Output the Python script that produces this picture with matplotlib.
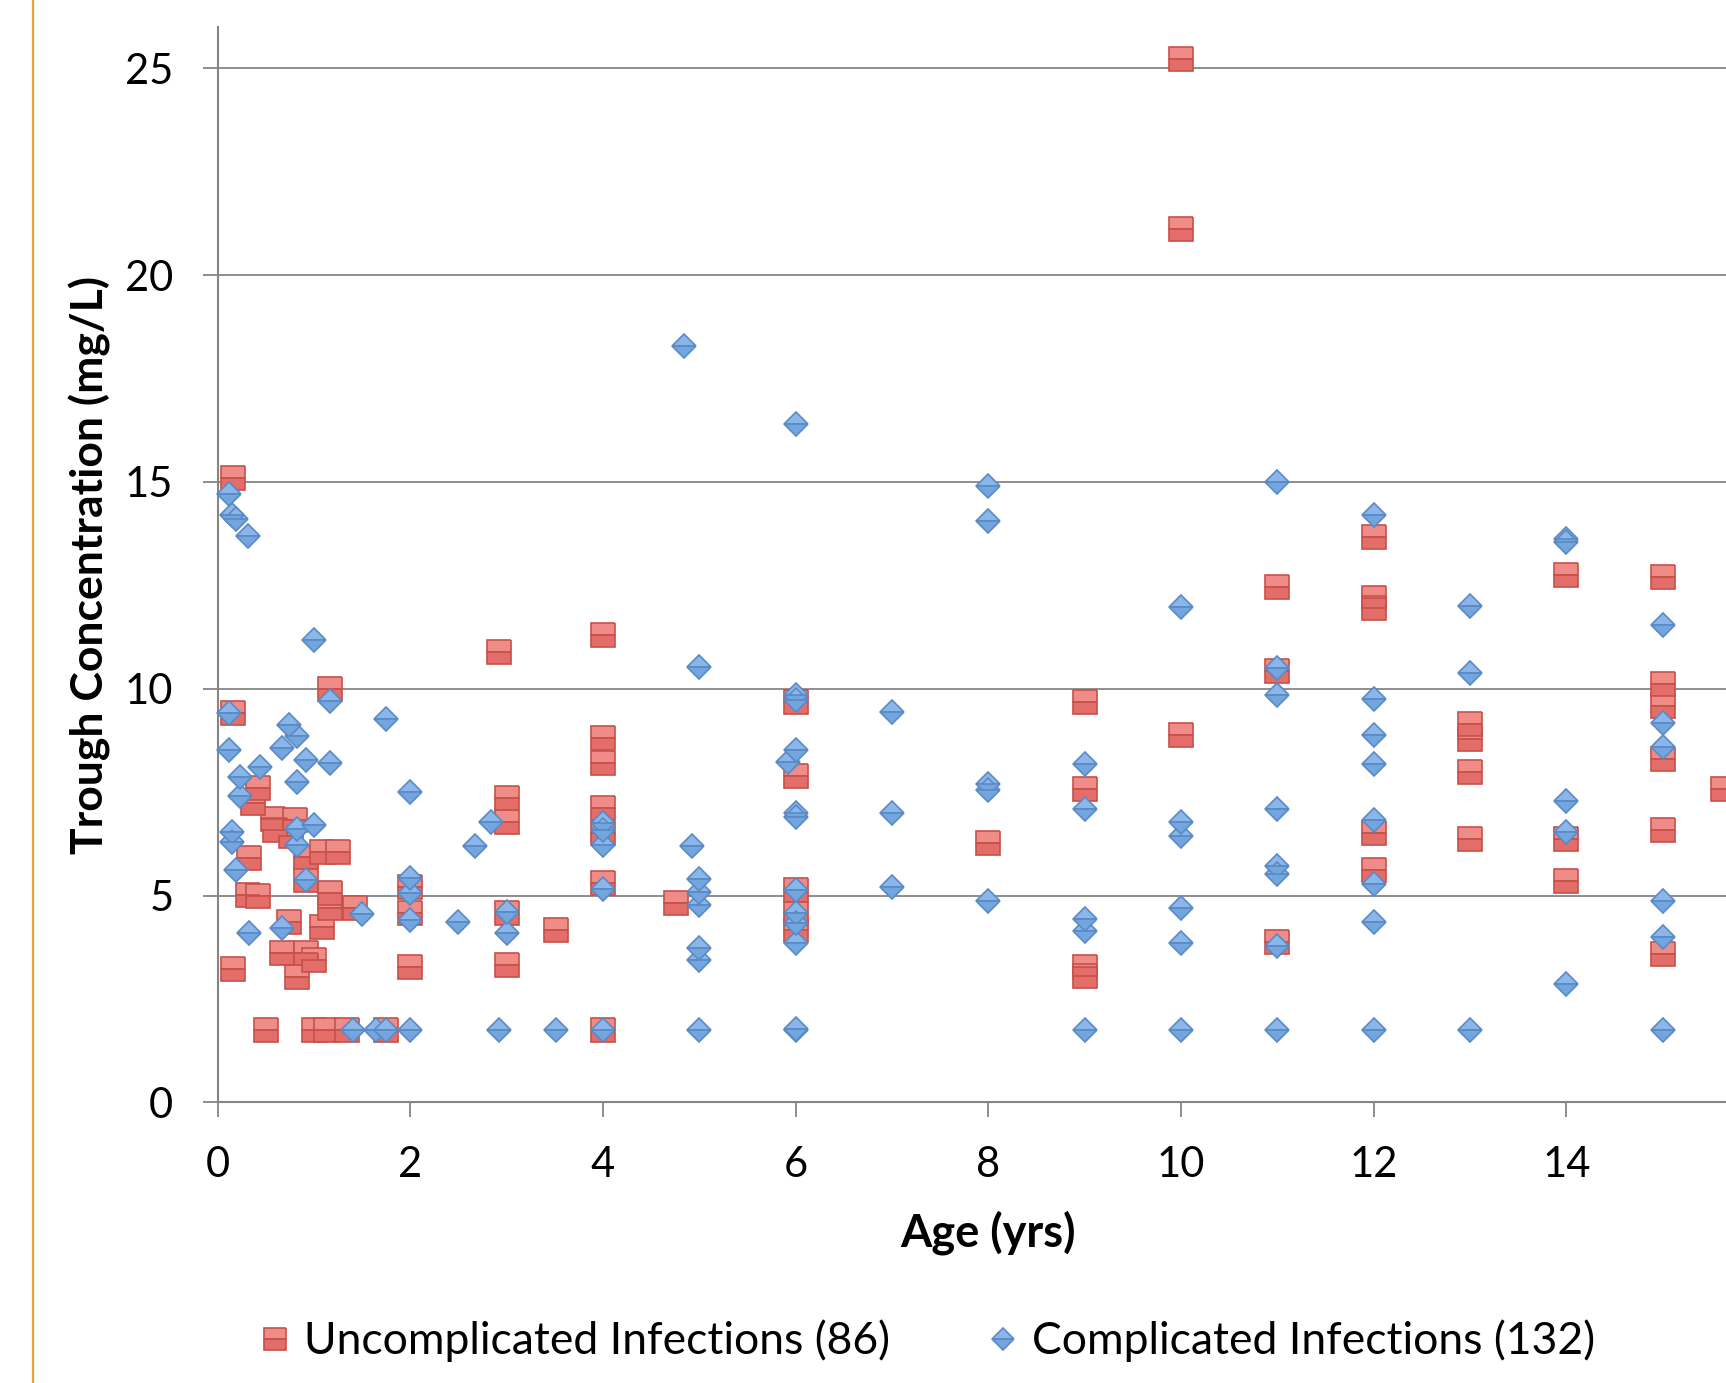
import matplotlib
matplotlib.use("Agg")
import matplotlib.pyplot as plt
from matplotlib.lines import Line2D

plt.rcParams['font.family'] = ['Lato', 'DejaVu Sans']

# Uncomplicated infections (red squares)
unc_age = [0.16, 0.16, 1.17, 0.42, 0.37, 0.58, 0.80, 0.60, 0.76, 0.33,
           0.92, 1.08, 1.25, 0.92, 0.32, 0.42, 1.17, 1.17, 1.43, 0.74,
           1.08, 0.67, 0.92, 1.0, 0.82, 0.16, 0.5, 1.0, 1.13, 1.34,
           1.75, 2.0, 2.0, 2.0, 2.92, 3.0, 3.0, 3.0, 3.0, 3.51,
           4.0, 4.0, 4.0, 4.0, 4.0, 4.0, 4.0, 4.76, 6.0, 6.0,
           6.0, 6.0, 6.0, 8.0, 9.0, 9.0, 9.0, 9.0, 10.0, 10.0,
           10.0, 11.0, 11.0, 11.0, 12.0, 12.0, 12.0, 12.0, 12.0, 13.0,
           13.0, 13.0, 13.0, 14.0, 14.0, 14.0, 15.0, 15.0, 15.0, 15.0,
           15.0, 15.0, 15.63]
unc_conc = [15.1, 9.42, 10.0, 7.59, 7.23, 6.85, 6.83, 6.58, 6.45, 5.90,
            5.94, 6.04, 6.04, 5.37, 5.01, 4.99, 5.05, 4.69, 4.69, 4.37,
            4.25, 3.60, 3.60, 3.44, 3.04, 3.22, 1.75, 1.75, 1.75, 1.75,
            1.75, 5.21, 4.57, 3.28, 10.9, 7.35, 6.78, 4.57, 3.32, 4.17,
            11.31, 8.8, 8.2, 7.11, 6.5, 5.3, 1.75, 4.81, 9.69, 7.9,
            5.13, 4.57, 4.17, 6.27, 9.69, 7.57, 3.26, 3.05, 25.22, 21.11,
            8.87, 12.47, 10.42, 3.87, 13.67, 12.2, 11.95, 6.5, 5.62, 9.14,
            8.78, 7.99, 6.37, 12.76, 6.36, 5.36, 12.69, 10.12, 9.58, 8.29,
            6.58, 3.58, 7.57]

# Complicated infections (blue diamonds)
comp_age = [0.12, 0.15, 0.19, 0.32, 1.0, 1.17, 0.12, 1.75, 0.74, 0.82,
            0.12, 0.67, 0.92, 1.17, 0.44, 0.23, 0.82, 0.23, 0.82, 1.0,
            0.15, 0.15, 0.82, 0.19, 0.92, 1.5, 0.67, 0.33, 1.41, 1.65,
            1.75, 2.0, 2.0, 2.0, 2.0, 2.0, 2.5, 2.67, 2.84, 2.92,
            3.0, 3.0, 3.51, 4.0, 4.0, 4.0, 4.0, 4.0, 4.84, 4.92,
            5.0, 5.0, 5.0, 5.0, 5.0, 5.0, 5.0, 6.0, 6.0, 6.0,
            6.0, 5.92, 6.0, 6.0, 6.0, 6.0, 6.0, 6.0, 6.0, 6.0,
            7.0, 7.0, 7.0, 8.0, 8.0, 8.0, 8.0, 8.0, 9.0, 9.0,
            9.0, 9.0, 9.0, 10.0, 10.0, 10.0, 10.0, 10.0, 10.0, 11.0,
            11.0, 11.0, 11.0, 11.0, 11.0, 11.0, 11.0, 12.0, 12.0, 12.0,
            12.0, 12.0, 12.0, 12.0, 12.0, 13.0, 13.0, 13.0, 14.0, 14.0,
            14.0, 14.0, 14.0, 15.0, 15.0, 15.0, 15.0, 15.0, 15.0]
comp_conc = [14.7, 14.2, 14.1, 13.7, 11.19, 9.70, 9.42, 9.26, 9.12, 8.85,
             8.52, 8.56, 8.28, 8.2, 8.11, 7.86, 7.75, 7.41, 6.62, 6.7,
             6.54, 6.3, 6.22, 5.62, 5.37, 4.55, 4.21, 4.09, 1.75, 1.75,
             1.75, 1.75, 7.51, 5.42, 5.05, 4.41, 4.37, 6.2, 6.78, 1.75,
             4.61, 4.09, 1.75, 6.75, 6.58, 6.22, 5.15, 1.75, 18.29, 6.2,
             10.52, 5.39, 5.09, 4.77, 3.72, 3.44, 1.75, 16.39, 9.85, 9.73,
             8.53, 8.24, 6.99, 6.91, 5.13, 4.57, 4.33, 3.85, 1.75, 1.78,
             9.44, 7.0, 5.2, 14.91, 14.05, 7.7, 7.54, 4.86, 8.19, 7.08,
             4.43, 4.13, 1.75, 11.98, 6.78, 6.45, 4.69, 3.85, 1.75, 15.0,
             10.51, 9.84, 7.09, 5.72, 5.53, 3.78, 1.75, 14.19, 9.74, 8.88,
             8.18, 6.82, 5.29, 4.35, 1.75, 12.0, 10.39, 1.75, 13.62, 13.55,
             7.28, 6.54, 2.85, 11.53, 9.18, 8.6, 4.86, 3.99, 1.75]

x_ticks = [0, 2, 4, 6, 8, 10, 12, 14]
y_ticks = [0, 5, 10, 15, 20, 25]
labels = ['Uncomplicated Infections (86)', 'Complicated Infections (132)']

gray = '#868686'
W, H = 1726, 1383
fig = plt.figure(figsize=(W / 100, H / 100), dpi=100)
# the plot area runs past the right edge of the picture (it was cropped)
ax = fig.add_axes([217.5 / W, 1 - 1102.3 / H, 16 * 96.35 / W, (1102.3 - 27) / H])

red = ax.plot(unc_age, unc_conc, linestyle='none', marker='s', markersize=17.5,
              fillstyle='top', markerfacecolor='#F08C87', markerfacecoloralt='#E36D68',
              markeredgecolor='#C8504B', markeredgewidth=1.2, clip_on=False, zorder=3)[0]
blue = ax.plot(comp_age, comp_conc, linestyle='none', marker='D', markersize=12.3,
               fillstyle='top', markerfacecolor='#8AB6E9', markerfacecoloralt='#73A5DF',
               markeredgecolor='#5A8AC6', markeredgewidth=1.2, clip_on=False, zorder=4)[0]

ax.set_xlim(0, 16)
ax.set_ylim(0, 26)
ax.set_xticks(x_ticks)
ax.set_yticks(y_ticks)
ax.set_axisbelow(True)
ax.grid(axis='y', color=gray, linewidth=1.3)
for s in ['top', 'right']:
    ax.spines[s].set_visible(False)
for s in ['left', 'bottom']:
    ax.spines[s].set_color(gray)
    ax.spines[s].set_linewidth(1.5)
ax.tick_params(direction='out', length=10.8, width=1.3, color=gray,
               labelsize=30, pad=21)

pos = ax.get_position()
ax.set_xlabel('Age (yrs)', fontsize=32.5, fontweight='bold')
ax.xaxis.set_label_coords(0.5, (1 - 1233 / H - pos.y0) / pos.height)
ax.xaxis.label.set_verticalalignment('center')
ax.set_ylabel('Trough Concentration (mg/L)', fontsize=32, fontweight='bold')
ax.yaxis.set_label_coords((90 / W - pos.x0) / pos.width, 0.5)
ax.yaxis.label.set_verticalalignment('center')

fig.legend([red, blue], labels, loc='center', bbox_to_anchor=(927 / W, 1 - 1341 / H),
           ncol=2, frameon=False, fontsize=32, handlelength=0.7, handletextpad=0.3,
           columnspacing=2.2, markerscale=0.9, borderpad=0)

# orange rule down the left side
fig.add_artist(Line2D([33 / W, 33 / W], [0, 1], color='#F2A12E', linewidth=1.6))

fig.savefig('out.png', dpi=100)
